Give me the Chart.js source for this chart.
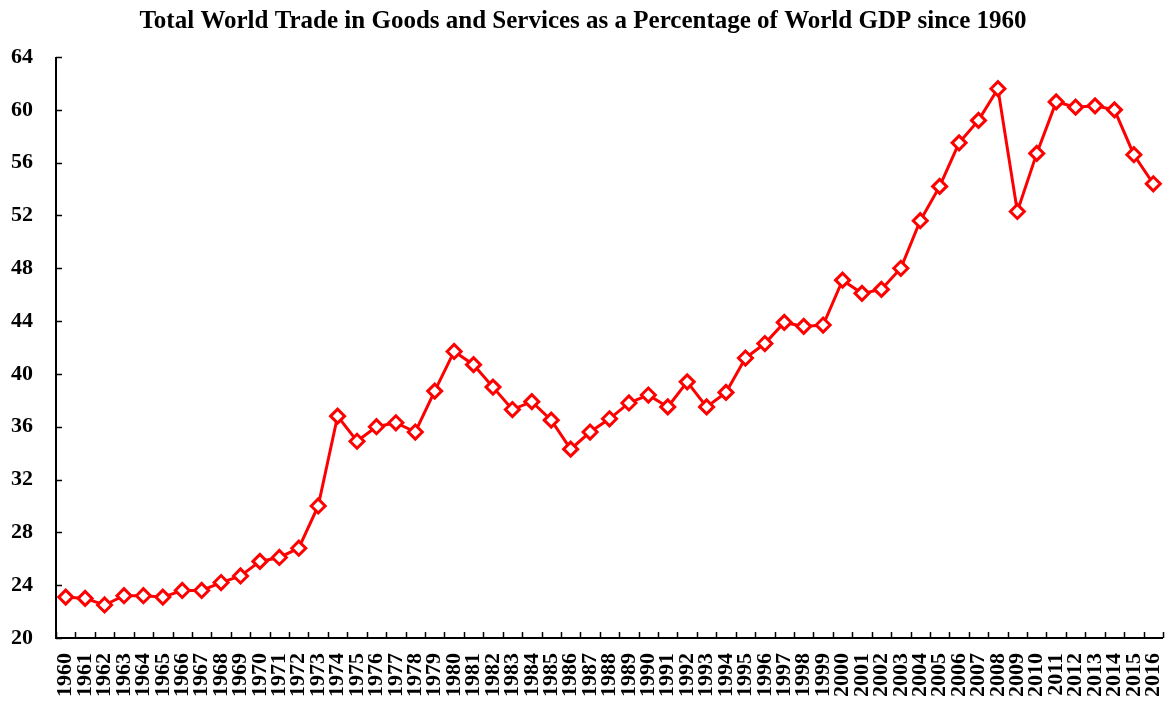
<!DOCTYPE html>
<html>
<head>
<meta charset="utf-8">
<script src="https://cdn.jsdelivr.net/npm/chart.js@4.4.1/dist/chart.umd.min.js"></script>
<style>
body{margin:0;background:#fff;}
#wrap{width:1173px;height:702px;}
</style>
</head>
<body>
<div id="wrap"><canvas id="chart" width="1173" height="702"></canvas></div>
<script>
// data
const years = [];
for (let y = 1960; y <= 2016; y++) years.push(String(y));

const tradePct = [
23.1, 23.0, 22.5, 23.2, 23.2, 23.1, 23.6, 23.6, 24.2, 24.7,
25.8, 26.1, 26.8, 30.0, 36.8, 34.9, 36.0, 36.3, 35.6, 38.7,
41.7, 40.7, 39.0, 37.3, 37.9, 36.5, 34.3, 35.6, 36.6, 37.8,
38.4, 37.5, 39.4, 37.5, 38.6, 41.2, 42.3, 43.9, 43.6, 43.7,
47.1, 46.1, 46.4, 48.0, 51.6, 54.2, 57.5, 59.2, 61.6, 52.3,
56.7, 60.6, 60.2, 60.3, 60.0, 56.6, 54.4
];

const yMin = 20, yMax = 64, yStep = 4;
const chartTitle = "Total World Trade in Goods and Services as a Percentage of World GDP since 1960";

const serif = "'Liberation Serif','Times New Roman',serif";

// inward tick marks like the original
const innerTicks = {
  id: "innerTicks",
  afterDraw(c){
    const ctx = c.ctx, x = c.scales.x, y = c.scales.y, a = c.chartArea;
    ctx.save();
    ctx.strokeStyle = "#000";
    ctx.lineWidth = 1.5;
    ctx.beginPath();
    y.ticks.forEach((t,i)=>{
      const py = Math.round(y.getPixelForTick(i)) + 0.5;
      ctx.moveTo(a.left, py); ctx.lineTo(a.left + 6, py);
    });
    const w = (a.right - a.left) / years.length;
    for (let i = 0; i <= years.length; i++){
      const px = Math.round(a.left + i*w) + 0.5;
      ctx.moveTo(px, a.bottom); ctx.lineTo(px, a.bottom - 6);
    }
    ctx.stroke();
    ctx.lineWidth = 2;
    ctx.beginPath();
    ctx.moveTo(a.left, a.top); ctx.lineTo(a.left, a.bottom); ctx.lineTo(a.right, a.bottom);
    ctx.stroke();
    ctx.restore();
  }
};

new Chart(document.getElementById("chart"), {
  type: "line",
  data: {
    labels: years,
    datasets: [{
      label: "Trade % of GDP",
      data: tradePct,
      borderColor: "#ff0000",
      borderWidth: 3,
      pointStyle: "rectRot",
      pointRadius: 7,
      pointBorderWidth: 3,
      pointBackgroundColor: "#fff",
      pointBorderColor: "#ff0000",
      tension: 0
    }]
  },
  options: {
    responsive: false,
    animation: false,
    layout: { padding: { top: 0, right: 7, left: 0, bottom: 0 } },
    plugins: {
      legend: { display: false },
      tooltip: { enabled: false },
      title: {
        display: true,
        text: chartTitle,
        color: "#000",
        font: { family: serif, size: 25, weight: "bold" },
        padding: { top: 7, bottom: 20 }
      }
    },
    scales: {
      x: {
        offset: true,
        border: { display: false },
        grid: { display: false, offset: true },
        ticks: {
          color: "#000",
          autoSkip: false,
          minRotation: 90,
          maxRotation: 90,
          padding: 7,
          font: { family: serif, size: 22, weight: "bold" }
        },
        afterFit(s){ s.height = 64; s.paddingLeft = 0; s.paddingRight = 0; }
      },
      y: {
        min: yMin,
        max: yMax,
        border: { display: false },
        grid: { display: false },
        ticks: {
          stepSize: yStep,
          color: "#000",
          padding: 15,
          font: { family: serif, size: 22, weight: "bold" }
        },
        afterFit(s){ s.width = 56; }
      }
    }
  },
  plugins: [innerTicks]
});
</script>
</body>
</html>
